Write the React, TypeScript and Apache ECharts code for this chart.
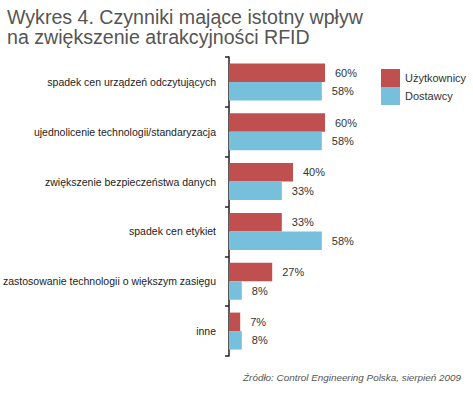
import React, { useEffect, useRef } from "react";
import * as echarts from "echarts";

const categories = [
  "spadek cen urządzeń odczytujących",
  "ujednolicenie technologii/standaryzacja",
  "zwiększenie bezpieczeństwa danych",
  "spadek cen etykiet",
  "zastosowanie technologii o większym zasięgu",
  "inne",
];
const uzytkownicy = [60, 60, 40, 33, 27, 7];
const dostawcy = [58, 58, 33, 58, 8, 8];
const seriesNames = ["Użytkownicy", "Dostawcy"];
const titleText = "Wykres 4. Czynniki mające istotny wpływ\nna zwiększenie atrakcyjności RFID";
const sourceText = "Źródło: Control Engineering Polska, sierpień 2009";

const FONT = "'Liberation Sans', Arial, Helvetica, sans-serif";

export default function App() {
  const ref = useRef<HTMLDivElement>(null);
  useEffect(() => {
    if (!ref.current) return;
    const chart = echarts.init(ref.current, null, { renderer: "svg" });
    const labelCfg = {
      show: true,
      position: "right",
      distance: 10,
      formatter: "{c}%",
      color: "#333",
      fontSize: 11,
      fontFamily: FONT,
    };
    chart.setOption({
      animation: false,
      backgroundColor: "#ffffff",
      textStyle: { fontFamily: FONT },
      title: {
        text: titleText,
        left: 2,
        top: 2,
        textStyle: {
          color: "#555555",
          fontSize: 19.6,
          fontWeight: "normal",
          lineHeight: 20,
          fontFamily: FONT,
        },
      },
      graphic: [
        {
          type: "text",
          right: 12,
          top: 372,
          style: {
            text: sourceText,
            fill: "#555555",
            font: `italic 9.9px ${FONT}`,
          },
        },
      ],
      legend: {
        orient: "vertical",
        left: 376,
        top: 64,
        itemWidth: 19,
        itemHeight: 18,
        itemGap: 0,
        icon: "rect",
        data: seriesNames,
        textStyle: { color: "#333", fontSize: 11, fontFamily: FONT, padding: [0, 0, 0, 0] },
      },
      grid: {
        left: 229,
        right: 84,
        top: 57,
        bottom: 38,
        containLabel: false,
        outerBoundsMode: "none",
      },
      xAxis: {
        type: "value",
        min: 0,
        max: 100,
        show: false,
      },
      yAxis: {
        type: "category",
        inverse: true,
        data: categories,
        axisLine: { show: true, lineStyle: { color: "#222", width: 1.5 } },
        axisTick: { show: true, length: 4, lineStyle: { color: "#222", width: 1.5 } },
        axisLabel: { color: "#222", fontSize: 10.5, margin: 13, fontFamily: FONT },
      },
      series: [
        {
          name: seriesNames[0],
          type: "bar",
          data: uzytkownicy,
          barWidth: 18.5,
          barGap: "0%",
          itemStyle: { color: "#c0504f" },
          label: labelCfg,
        },
        {
          name: seriesNames[1],
          type: "bar",
          data: dostawcy,
          barWidth: 18.5,
          barGap: "0%",
          itemStyle: { color: "#76c0dc" },
          label: labelCfg,
        },
      ],
    });
    return () => chart.dispose();
  }, []);
  return <div ref={ref} style={{ width: 473, height: 394, position: "absolute", left: 0, top: 0 }} />;
}
